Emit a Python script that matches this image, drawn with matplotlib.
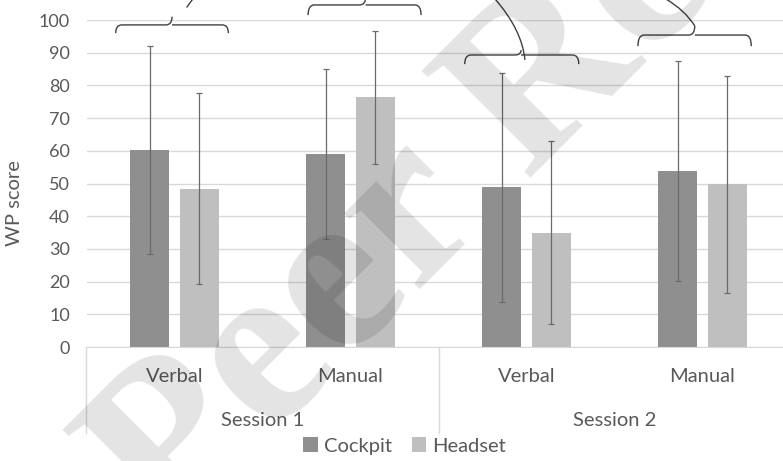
import numpy as np
import matplotlib
matplotlib.use("Agg")
import matplotlib.pyplot as plt
from matplotlib.path import Path
from matplotlib.patches import PathPatch
import matplotlib.transforms as mtransforms

plt.rcParams['font.family'] = ['Lato', 'DejaVu Sans']

# data
sessions = ['Session 1', 'Session 2']
tasks = ['Verbal', 'Manual', 'Verbal', 'Manual']
cockpit = [60.2, 59.0, 48.8, 53.8]
cockpit_err = [31.8, 26.1, 35.1, 33.7]
headset = [48.4, 76.4, 35.0, 49.8]
headset_err = [29.2, 20.3, 28.1, 33.2]
yticks = [0, 10, 20, 30, 40, 50, 60, 70, 80, 90, 100]

txt = '#595959'
W, H = 783, 461
fig = plt.figure(figsize=(W / 100, H / 100), dpi=100)
ax = fig.add_axes([86.5 / W, (H - 347) / H, 704 / W, 327 / H])

x = np.arange(len(tasks))
off, bw = 0.142, 0.222
ax.bar(x - off, cockpit, bw, color='#8f8f8f', label='Cockpit', zorder=2)
ax.bar(x + off, headset, bw, color='#bfbfbf', label='Headset', zorder=2)
ax.errorbar(x - off, cockpit, yerr=cockpit_err, fmt='none', ecolor='#6a6a6a',
            elinewidth=0.9, capsize=2.2, capthick=0.9, zorder=3)
ax.errorbar(x + off, headset, yerr=headset_err, fmt='none', ecolor='#6a6a6a',
            elinewidth=0.9, capsize=2.2, capthick=0.9, zorder=3)

ax.set_xlim(-0.5, 3.5)
ax.set_ylim(0, 100)
ax.set_yticks(yticks)
ax.tick_params(axis='y', length=0, pad=12, labelsize=13, labelcolor=txt)
ax.set_xticks([])
ax.yaxis.grid(True, color='#d9d9d9', lw=1, zorder=0)
ax.set_axisbelow(True)
for s in ['left', 'right', 'top']:
    ax.spines[s].set_visible(False)
ax.spines['bottom'].set_color('#d9d9d9')

# two-level category axis
tr = mtransforms.blended_transform_factory(ax.transData, ax.transAxes)
for xi, t in zip(x, tasks):
    ax.text(xi, -0.091, t, transform=tr, ha='center', va='center',
            fontsize=14.5, color=txt)
for i, s in enumerate(sessions):
    ax.text(2 * i + 0.5, -0.226, s, transform=tr, ha='center', va='center',
            fontsize=14.5, color=txt)
for xs in [-0.5, 1.5, 3.5]:
    ax.plot([xs, xs], [0, -0.263], transform=tr, color='#d9d9d9', lw=1,
            clip_on=False)

fig.text(15 / W, 1 - 203 / H, 'WP score', rotation=90, ha='center',
         va='center', fontsize=14.5, color=txt)

fig.legend(loc='center', bbox_to_anchor=(404.5 / W, 1 - 446 / H), ncol=2,
           frameon=False, handlelength=0.7, handleheight=0.7,
           handletextpad=0.3, columnspacing=1.0, fontsize=14.5,
           labelcolor=txt)


def brace(x0, x1, xm, yb, yf, yt):
    d = 0.035
    v = [(x0, yb), (x0, yf), (x0 + d, yf), (xm - d, yf),
         (xm, yf), (xm, yt),
         (xm, yf), (xm + d, yf), (x1 - d, yf),
         (x1, yf), (x1, yb)]
    c = [Path.MOVETO, Path.CURVE3, Path.CURVE3, Path.LINETO,
         Path.CURVE3, Path.CURVE3,
         Path.MOVETO, Path.CURVE3, Path.LINETO,
         Path.CURVE3, Path.CURVE3]
    ax.add_patch(PathPatch(Path(v, c), fill=False, ec='#404040', lw=1,
                           clip_on=False, zorder=4))


brace(-0.334, 0.306, -0.014, 96.0, 98.5, 101.0)
brace(0.759, 1.401, 1.086, 101.5, 104.6, 107.0)
brace(1.649, 2.297, 1.969, 86.5, 89.3, 90.8)
brace(2.633, 3.277, 2.956, 92.0, 95.4, 98.2)
ax.plot([0.071, 0.105], [104.0, 106.5], color='#404040', lw=1, clip_on=False)
ax.add_patch(PathPatch(Path([(1.991, 87.8), (1.975, 97.0), (1.82, 106.5)],
                            [Path.MOVETO, Path.CURVE3, Path.CURVE3]),
                       fill=False, ec='#404040', lw=1, clip_on=False, zorder=4))
ax.add_patch(PathPatch(Path([(2.956, 98.2), (2.90, 103.0), (2.79, 106.5)],
                            [Path.MOVETO, Path.CURVE3, Path.CURVE3]),
                       fill=False, ec='#404040', lw=1, clip_on=False, zorder=4))

# watermark: place it so the "R" of Review starts near pixel (528, 182)
wm = dict(fontsize=168, fontweight='bold', family='Liberation Serif')
r = fig.canvas.get_renderer()
t1 = fig.text(0, 0, 'Peer R', **wm)
t2 = fig.text(0, 0, 'R', **wm)
w = t1.get_window_extent(r).width - t2.get_window_extent(r).width
t1.remove()
t2.remove()
ang = np.deg2rad(45)
sx = 528 - w * np.cos(ang)
sy = (H - 182) - w * np.sin(ang)
fig.text(sx / W, sy / H, 'Peer Review', rotation=45, rotation_mode='anchor',
         ha='left', va='baseline', color='black', alpha=0.11, zorder=10, **wm)

fig.savefig('out.png', dpi=100)
